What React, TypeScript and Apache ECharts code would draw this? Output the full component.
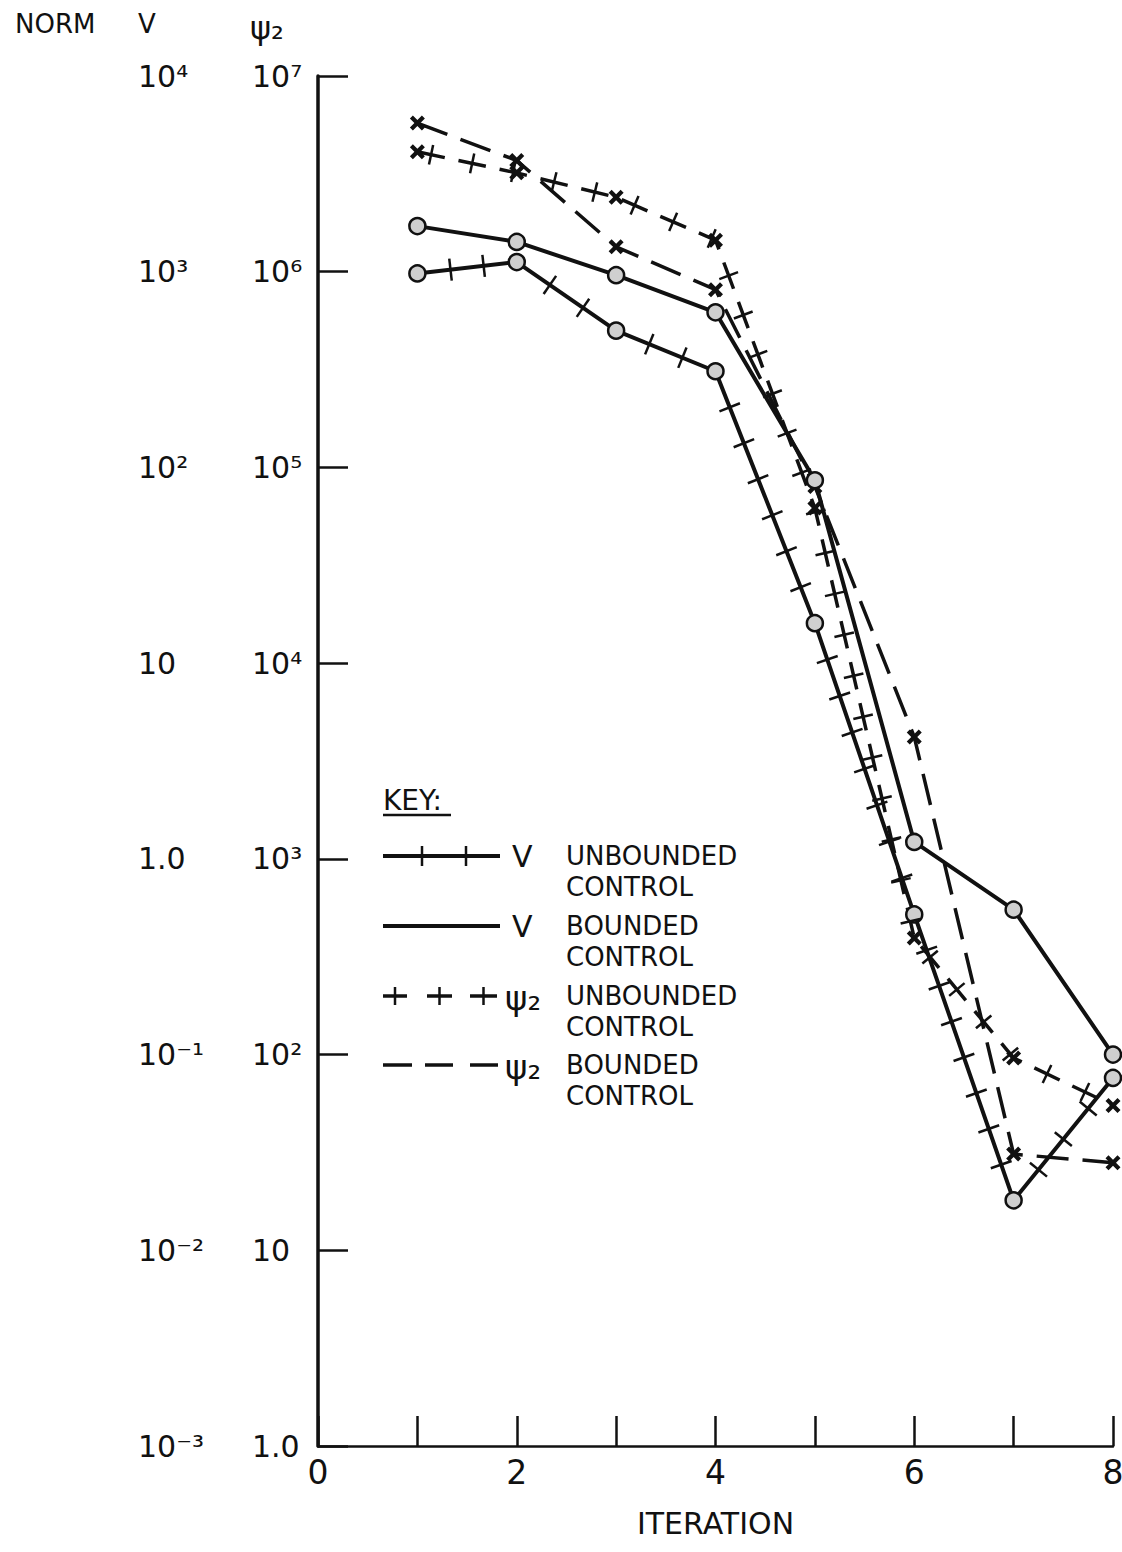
import React, { useEffect, useRef } from 'react';
import * as echarts from 'echarts';

// ---- data ----
const iterations = [1, 2, 3, 4, 5, 6, 7, 8];
const vUnbounded = [980, 1120, 500, 310, 16, 0.52, 0.018, 0.076];
const vBounded = [1710, 1420, 960, 620, 86, 1.22, 0.55, 0.1];
const psiUnbounded = [4.1e6, 3.2e6, 2.4e6, 1.45e6, 6.2e4, 394, 96, 55];
const psiBounded = [5.75e6, 3.7e6, 1.34e6, 8.1e5, 8.0e4, 4.2e3, 31, 28];

const xTickLabels = ['0', '', '2', '', '4', '', '6', '', '8'];
const vTickLabels = ['10⁻³', '10⁻²', '10⁻¹', '1.0', '10', '10²', '10³', '10⁴'];
const psiTickLabels = ['1.0', '10', '10²', '10³', '10⁴', '10⁵', '10⁶', '10⁷'];

const headerTexts = ['NORM', 'V', 'ψ₂'];
const legendTitle = 'KEY:';
const legendSymbols = ['V', 'V', 'ψ₂', 'ψ₂'];
const legendLine1 = ['UNBOUNDED', 'BOUNDED', 'UNBOUNDED', 'BOUNDED'];
const legendLine2 = ['CONTROL', 'CONTROL', 'CONTROL', 'CONTROL'];
const xAxisTitle = 'ITERATION';

// ---- styling ----
const FONT = '"DejaVu Sans", "Liberation Sans", sans-serif';
const INK = '#111';

function pairs(ys: number[]) {
  return iterations.map((x, i) => [x, ys[i]]);
}

// ticks spread evenly on every segment (solid line with cross ticks)
function segmentTicks(ys: number[], spacing: number, half: number) {
  return (_params: any, api: any) => {
    const pts = iterations.map((x, i) => api.coord([x, ys[i]]));
    const children: any[] = [];
    for (let i = 0; i < pts.length - 1; i++) {
      const [x0, y0] = pts[i];
      const [x1, y1] = pts[i + 1];
      const dx = x1 - x0;
      const dy = y1 - y0;
      const L = Math.hypot(dx, dy);
      if (L < 1) continue;
      const n = Math.max(1, Math.round(L / spacing) - 1);
      const nx = -dy / L;
      const ny = dx / L;
      for (let k = 1; k <= n; k++) {
        const t = k / (n + 1);
        const cx = x0 + dx * t;
        const cy = y0 + dy * t;
        children.push({
          type: 'line',
          shape: { x1: cx - nx * half, y1: cy - ny * half, x2: cx + nx * half, y2: cy + ny * half },
          style: { stroke: INK, lineWidth: 2.5 },
        });
      }
    }
    return { type: 'group', children };
  };
}

// ticks at the middle of every dash of a dashed polyline
function dashTicks(ys: number[], period: number, offset: number, half: number) {
  return (_params: any, api: any) => {
    const pts = iterations.map((x, i) => api.coord([x, ys[i]]));
    const children: any[] = [];
    let acc = 0;
    let next = offset;
    for (let i = 0; i < pts.length - 1; i++) {
      const [x0, y0] = pts[i];
      const [x1, y1] = pts[i + 1];
      const dx = x1 - x0;
      const dy = y1 - y0;
      const L = Math.hypot(dx, dy);
      if (L < 1) continue;
      const nx = -dy / L;
      const ny = dx / L;
      while (next <= acc + L) {
        const t = (next - acc) / L;
        const cx = x0 + dx * t;
        const cy = y0 + dy * t;
        children.push({
          type: 'line',
          shape: { x1: cx - nx * half, y1: cy - ny * half, x2: cx + nx * half, y2: cy + ny * half },
          style: { stroke: INK, lineWidth: 2.5 },
        });
        next += period;
      }
      acc += L;
    }
    return { type: 'group', children };
  };
}

const X_SYMBOL = 'path://M0,2L2,0L5,3L8,0L10,2L7,5L10,8L8,10L5,7L2,10L0,8L3,5Z';

function txt(text: string, x: number, y: number, fontSize: number, extra: any = {}) {
  return {
    type: 'text',
    x,
    y,
    silent: true,
    style: { text, fill: INK, fontSize, fontFamily: FONT, align: 'left', verticalAlign: 'middle', ...extra },
  };
}

function seg(x1: number, y1: number, x2: number, y2: number, w: number) {
  return { type: 'line', silent: true, shape: { x1, y1, x2, y2 }, style: { stroke: INK, lineWidth: w } };
}

function buildGraphic() {
  const g: any[] = [];
  // header
  g.push(txt(headerTexts[0], 15, 24, 26));
  g.push(txt(headerTexts[1], 138, 24, 26));
  g.push(txt(headerTexts[2], 250, 28, 32));
  // key
  g.push(txt(legendTitle, 383, 800, 28));
  g.push(seg(383, 815, 451, 815, 2.5));
  const rowY = [856, 926, 996, 1065];
  // row 0: solid with ticks
  g.push(seg(383, rowY[0], 500, rowY[0], 4));
  [422, 466].forEach((x) => g.push(seg(x, rowY[0] - 10, x, rowY[0] + 10, 2.5)));
  // row 1: solid
  g.push(seg(383, rowY[1], 500, rowY[1], 4));
  // row 2: dashed with ticks
  [[383, 407], [427, 452], [470, 497]].forEach(([a, b]) => {
    g.push(seg(a, rowY[2], b, rowY[2], 3.5));
    const c = (a + b) / 2;
    g.push(seg(c, rowY[2] - 9, c, rowY[2] + 9, 2.5));
  });
  // row 3: dashed
  [[383, 412], [425, 453], [470, 498]].forEach(([a, b]) => g.push(seg(a, rowY[3], b, rowY[3], 3.5)));
  rowY.forEach((y, i) => {
    if (i < 2) g.push(txt(legendSymbols[i], 512, y, 30));
    else g.push(txt(legendSymbols[i], 505, y + 2, 34));
    g.push(txt(legendLine1[i], 566, y, 26));
    g.push(txt(legendLine2[i], 566, y + 31, 26));
  });
  return g;
}

function buildOption() {
  return {
    animation: false,
    backgroundColor: '#ffffff',
    textStyle: { fontFamily: FONT },
    grid: { left: 318, top: 76, right: 9, bottom: 106, containLabel: false, outerBoundsMode: 'none' },
    xAxis: {
      type: 'value',
      min: 0,
      max: 8,
      interval: 1,
      name: xAxisTitle,
      nameLocation: 'middle',
      nameGap: 62,
      nameTextStyle: { fontSize: 30, color: INK, fontFamily: FONT },
      axisLine: { show: true, onZero: false, lineStyle: { color: INK, width: 2.5 } },
      axisTick: { show: true, inside: true, length: 30, lineStyle: { color: INK, width: 2.5 } },
      axisLabel: {
        formatter: (v: number) => xTickLabels[Math.round(v)] ?? '',
        fontSize: 33,
        color: INK,
        margin: 10,
        fontFamily: FONT,
      },
      splitLine: { show: false },
    },
    yAxis: [
      {
        type: 'log',
        logBase: 10,
        min: 1,
        max: 1e7,
        splitNumber: 7,
        position: 'left',
        axisLine: { show: true, onZero: false, lineStyle: { color: INK, width: 3.5 } },
        axisTick: { show: true, inside: true, length: 30, lineStyle: { color: INK, width: 2.5 } },
        axisLabel: {
          formatter: (v: number) => psiTickLabels[Math.round(Math.log10(v))] ?? '',
          align: 'left',
          margin: 66,
          fontSize: 30,
          color: INK,
          fontFamily: FONT,
        },
        splitLine: { show: false },
        minorTick: { show: false },
      },
      {
        type: 'log',
        logBase: 10,
        min: 1e-3,
        max: 1e4,
        splitNumber: 7,
        position: 'left',
        offset: 0,
        axisLine: { show: false },
        axisTick: { show: false },
        axisLabel: {
          formatter: (v: number) => vTickLabels[Math.round(Math.log10(v)) + 3] ?? '',
          align: 'left',
          margin: 180,
          fontSize: 30,
          color: INK,
          fontFamily: FONT,
        },
        splitLine: { show: false },
        minorTick: { show: false },
      },
    ],
    series: [
      {
        name: 'V unbounded control',
        type: 'line',
        yAxisIndex: 1,
        data: pairs(vUnbounded),
        lineStyle: { color: INK, width: 4 },
        symbol: 'circle',
        symbolSize: 16,
        itemStyle: { color: '#cfcfcf', borderColor: INK, borderWidth: 2.5 },
        z: 4,
      },
      {
        name: 'V bounded control',
        type: 'line',
        yAxisIndex: 1,
        data: pairs(vBounded),
        lineStyle: { color: INK, width: 4 },
        symbol: 'circle',
        symbolSize: 16,
        itemStyle: { color: '#cfcfcf', borderColor: INK, borderWidth: 2.5 },
        z: 4,
      },
      {
        name: 'ψ2 unbounded control',
        type: 'line',
        yAxisIndex: 0,
        data: pairs(psiUnbounded),
        lineStyle: { color: INK, width: 3.5, type: [28, 14] },
        symbol: X_SYMBOL,
        symbolSize: 15,
        itemStyle: { color: INK },
        z: 3,
      },
      {
        name: 'ψ2 bounded control',
        type: 'line',
        yAxisIndex: 0,
        data: pairs(psiBounded),
        lineStyle: { color: INK, width: 3.5, type: [32, 14] },
        symbol: X_SYMBOL,
        symbolSize: 15,
        itemStyle: { color: INK },
        z: 3,
      },
      {
        name: 'V unbounded ticks',
        type: 'custom',
        yAxisIndex: 1,
        data: [[iterations[0], vUnbounded[0]]],
        renderItem: segmentTicks(vUnbounded, 40, 11),
        silent: true,
        z: 5,
      },
      {
        name: 'ψ2 unbounded ticks',
        type: 'custom',
        yAxisIndex: 0,
        data: [[iterations[0], psiUnbounded[0]]],
        renderItem: dashTicks(psiUnbounded, 42, 14, 10),
        silent: true,
        z: 5,
      },
    ],
    graphic: buildGraphic(),
  };
}

export default function App() {
  const ref = useRef<HTMLDivElement>(null);
  useEffect(() => {
    document.body.style.margin = '0';
    const chart = echarts.init(ref.current as HTMLDivElement, undefined, { renderer: 'svg' });
    chart.setOption(buildOption() as any);
    return () => {
      chart.dispose();
    };
  }, []);
  return <div ref={ref} style={{ width: 1122, height: 1552, background: '#fff' }} />;
}
